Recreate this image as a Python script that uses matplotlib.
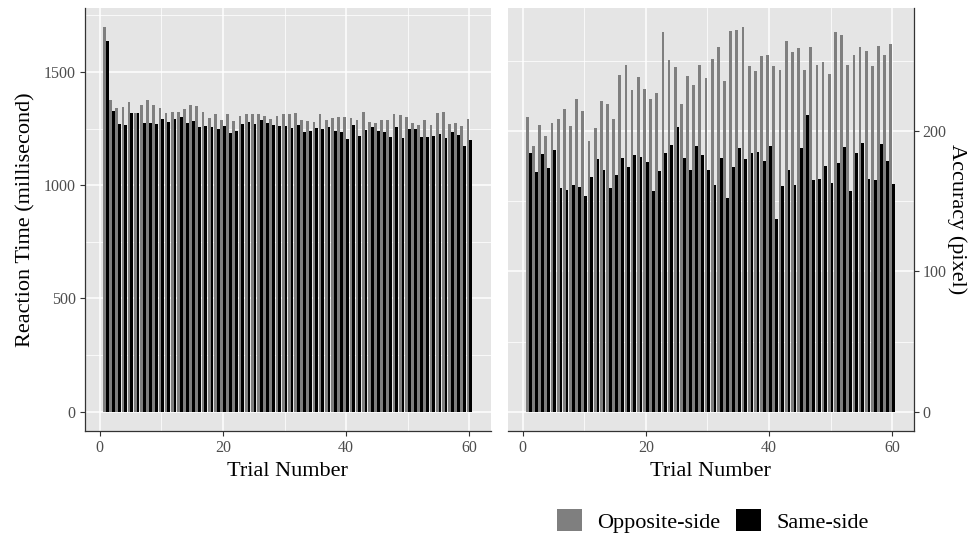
import numpy as np
import matplotlib
matplotlib.use("Agg")
import matplotlib.pyplot as plt
from matplotlib.patches import Patch
from matplotlib.ticker import MultipleLocator

plt.rcParams['font.family'] = ['Liberation Serif', 'DejaVu Serif']

trials = list(range(1, 61))

opp_rt = [1697, 1374, 1341, 1346, 1366, 1320, 1354, 1374, 1354, 1341,
          1317, 1321, 1321, 1337, 1354, 1348, 1324, 1297, 1316, 1286,
          1316, 1284, 1304, 1316, 1312, 1312, 1304, 1291, 1305, 1312,
          1314, 1320, 1288, 1285, 1279, 1312, 1286, 1297, 1300, 1300,
          1298, 1288, 1323, 1280, 1276, 1288, 1286, 1313, 1308, 1302,
          1276, 1264, 1288, 1264, 1317, 1323, 1268, 1276, 1263, 1293]
same_rt = [1638, 1329, 1270, 1266, 1320, 1320, 1275, 1275, 1270, 1292,
           1279, 1291, 1299, 1274, 1283, 1257, 1262, 1256, 1250, 1262,
           1230, 1238, 1270, 1279, 1270, 1287, 1275, 1266, 1263, 1263,
           1251, 1264, 1234, 1239, 1254, 1246, 1258, 1239, 1234, 1204,
           1264, 1217, 1243, 1258, 1239, 1234, 1212, 1258, 1209, 1246,
           1246, 1212, 1212, 1217, 1227, 1209, 1234, 1221, 1175, 1200]

opp_acc = [210.0, 189.7, 204.5, 196.7, 205.7, 208.6, 216.0, 203.8, 223.1, 214.5,
           193.1, 202.4, 221.2, 219.1, 208.6, 240.0, 247.4, 229.3, 238.6, 230.0,
           223.1, 227.2, 271.0, 250.8, 245.7, 219.1, 239.3, 232.6, 247.2, 237.9,
           251.5, 260.1, 235.5, 271.3, 272.4, 274.1, 246.7, 242.7, 253.9, 254.6,
           246.7, 243.8, 264.6, 256.2, 259.3, 243.8, 259.8, 247.2, 249.1, 240.7,
           270.8, 268.9, 246.9, 254.6, 259.8, 257.4, 246.7, 260.5, 254.6, 262.2]
same_acc = [184.3, 170.9, 183.8, 173.5, 186.4, 159.2, 158.0, 161.6, 160.2, 154.0,
            167.6, 180.2, 172.3, 159.5, 169.0, 180.9, 174.2, 183.1, 181.6, 178.3,
            157.6, 171.6, 184.3, 190.2, 203.1, 180.9, 172.1, 189.7, 183.1, 172.1,
            161.6, 180.9, 152.1, 174.2, 188.3, 180.2, 184.7, 185.4, 178.8, 189.7,
            137.3, 160.9, 172.1, 161.6, 188.3, 211.2, 165.0, 165.7, 175.0, 163.0,
            177.6, 189.0, 157.6, 184.7, 191.4, 166.1, 165.0, 190.7, 178.8, 162.3]

series_names = ["Opposite-side", "Same-side"]
series_colors = ["#7f7f7f", "#000000"]

W, H = 968, 537
fig = plt.figure(figsize=(W / 100, H / 100), dpi=100)

def fx(px):
    return px / W

def fy(py):
    return 1 - py / H

top_px, bot_px = 8, 431
ax1 = fig.add_axes([fx(84.6), fy(bot_px), fx(406), (bot_px - top_px) / H])
ax2 = fig.add_axes([fx(507.5), fy(bot_px), fx(406), (bot_px - top_px) / H])

x = np.array(trials, dtype=float)
bw = 0.45

def style(ax, ymax, ymajor, yminor, right=False):
    ax.set_facecolor("#E5E5E5")
    ax.set_axisbelow(True)
    ax.set_xlim(-2.45, 63.45)
    ax.set_ylim(-0.05 * ymax, 1.05 * ymax)
    ax.xaxis.set_major_locator(MultipleLocator(20))
    ax.xaxis.set_minor_locator(MultipleLocator(10))
    ax.yaxis.set_major_locator(MultipleLocator(ymajor))
    ax.yaxis.set_minor_locator(MultipleLocator(yminor))
    ax.grid(which="major", color="white", linewidth=1.1)
    ax.grid(which="minor", color="white", linewidth=0.55)
    for s in ax.spines.values():
        s.set_visible(False)
    ax.spines["bottom"].set_visible(True)
    ax.spines["bottom"].set_color("#333333")
    ax.spines["bottom"].set_linewidth(0.9)
    side = "right" if right else "left"
    ax.spines[side].set_visible(True)
    ax.spines[side].set_color("#333333")
    ax.spines[side].set_linewidth(0.9)
    ax.tick_params(which="major", length=3.5, width=0.8, color="#333333",
                   labelsize=11.5, labelcolor="#4D4D4D", pad=3)
    ax.tick_params(which="minor", length=0)
    if right:
        ax.yaxis.tick_right()
        ax.yaxis.set_label_position("right")

ax1.bar(x - bw / 2, opp_rt, width=bw, color=series_colors[0], linewidth=0)
ax1.bar(x + bw / 2, same_rt, width=bw, color=series_colors[1], linewidth=0)
style(ax1, max(opp_rt), 500, 250)
ax1.set_ylabel("Reaction Time (millisecond)", fontsize=16, labelpad=6)
ax1.set_xlabel("Trial Number", fontsize=16, labelpad=4)

ax2.bar(x - bw / 2, opp_acc, width=bw, color=series_colors[0], linewidth=0)
ax2.bar(x + bw / 2, same_acc, width=bw, color=series_colors[1], linewidth=0)
style(ax2, max(opp_acc), 100, 50, right=True)
ylab = ax2.set_ylabel("Accuracy (pixel)", fontsize=16, rotation=270)
ylab.set_va("center")
ylab.set_ha("center")
ax2.yaxis.set_label_coords((957 - 507.5) / 406, 0.5)
ax2.set_xlabel("Trial Number", fontsize=16, labelpad=4)

handles = [Patch(facecolor=c, edgecolor="none", label=n) for n, c in zip(series_names, series_colors)]
fig.legend(handles=handles, loc="center", bbox_to_anchor=(fx(713), fy(521)),
           ncol=2, frameon=False, fontsize=16, handlelength=1.1, handleheight=1.1,
           handletextpad=0.7, columnspacing=0.7, borderpad=0)

fig.savefig("out.png", dpi=100)
